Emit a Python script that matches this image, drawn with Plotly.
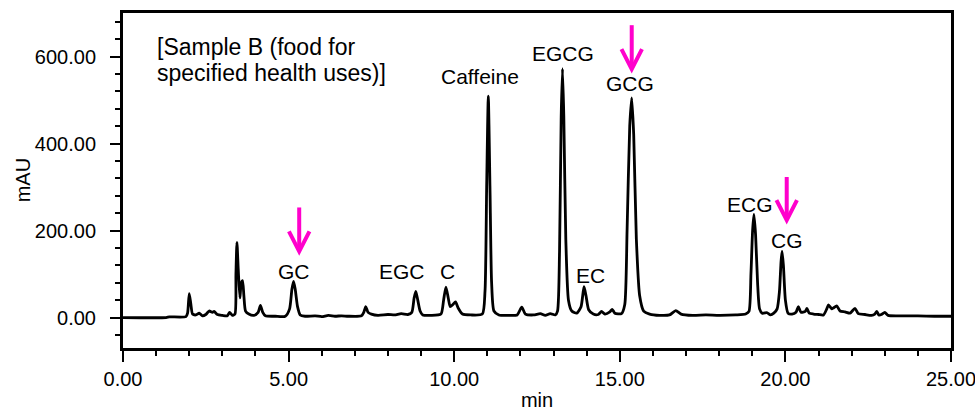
import plotly.graph_objects as go

# Chromatogram trace: retention time (min) and absorbance (mAU)
time_min = [
    0.0, 1.3, 1.4, 1.9, 1.95, 2.0, 2.05, 2.1, 2.2, 2.3, 2.4, 2.5, 2.6, 2.7, 2.75, 2.85,
    3.0, 3.15, 3.22, 3.3, 3.38, 3.41, 3.44, 3.48, 3.53, 3.57, 3.61, 3.65, 3.7, 3.8, 3.95,
    4.08, 4.15, 4.22, 4.3, 4.6, 4.9, 5.03, 5.1, 5.15, 5.2, 5.27, 5.35, 5.5, 5.8, 6.0, 6.2,
    6.4, 6.6, 6.8, 7.2, 7.27, 7.33, 7.4, 7.5, 7.7, 8.0, 8.2, 8.4, 8.6, 8.72, 8.79, 8.84,
    8.9, 8.97, 9.05, 9.3, 9.6, 9.68, 9.75, 9.82, 9.88, 9.96, 10.04, 10.12, 10.25, 10.5,
    10.85, 10.93, 10.98, 11.03, 11.08, 11.13, 11.2, 11.35, 11.6, 11.9, 12.04, 12.15, 12.4,
    12.6, 12.75, 12.9, 13.05, 13.12, 13.18, 13.23, 13.27, 13.31, 13.37, 13.45, 13.55, 13.7,
    13.83, 13.92, 13.98, 14.06, 14.2, 14.35, 14.45, 14.55, 14.7, 14.77, 14.85, 15.05, 15.15,
    15.22, 15.3, 15.36, 15.42, 15.5, 15.6, 15.72, 15.9, 16.2, 16.5, 16.69, 16.85, 17.2, 17.6,
    18.0, 18.5, 18.8, 18.9, 18.96, 19.01, 19.05, 19.1, 19.16, 19.22, 19.3, 19.45, 19.55,
    19.65, 19.75, 19.82, 19.87, 19.9, 19.94, 20.0, 20.08, 20.2, 20.32, 20.39, 20.47, 20.6,
    20.65, 20.72, 20.85, 21.0, 21.15, 21.25, 21.3, 21.4, 21.45, 21.55, 21.65, 21.8, 21.95,
    22.1, 22.2, 22.4, 22.6, 22.7, 22.76, 22.82, 22.9, 23.0, 23.1, 23.5, 24.0, 24.5, 25.0,
]
mau = [
    0, 0, 1.5, 2, 10, 55, 30, 8, 6, 10, 4, 7, 15, 12, 14, 7,
    5, 4, 12, 5, 8, 100, 173, 110, 45, 80, 85, 50, 15, 8, 5,
    12, 28, 12, 4, 3, 3, 20, 65, 83, 65, 25, 6, 3, 4, 2, 5,
    3, 4, 3, 4, 12, 25, 12, 8, 5, 7, 6, 9, 7, 12, 45, 60,
    40, 15, 6, 5, 8, 40, 70, 45, 25, 30, 36, 22, 8, 6,
    8, 60, 300, 509, 300, 80, 15, 6, 5, 6, 24, 8, 6,
    9, 5, 9, 6, 15, 150, 460, 572, 460, 180, 40, 15, 10,
    25, 71, 50, 18, 8, 7, 14, 8, 13, 19, 10, 9, 30,
    200, 440, 505, 420, 180, 50, 15, 8, 5, 6, 16, 8, 5, 6,
    5, 6, 8, 14, 100, 200, 237, 190, 80, 20, 10, 11, 6,
    10, 20, 60, 130, 152, 120, 40, 10, 8, 12, 25, 12, 14,
    21, 10, 8, 7, 6, 20, 29, 20, 22, 27, 15, 13, 10,
    21, 9, 7, 5, 8, 14, 6, 7, 12, 5, 4, 4, 3, 3,
]

# Peak labels
peak_names = ["GC", "EGC", "C", "Caffeine", "EGCG", "EC", "GCG", "ECG", "CG"]
label_x = [5.16, 8.43, 9.81, 10.79, 13.27, 14.12, 15.32, 18.92, 20.06]
label_y = [106, 106, 106, 553, 608, 97, 538, 259, 176]

# Magenta arrows (x position, top, tip) in data units
arrow_x = [5.32, 15.36, 20.04]
arrow_top = [253, 672, 323]
arrow_tip = [152, 571, 224]

sample_lines = ["[Sample B (food for", "specified health uses)]"]

FONT = "Liberation Sans, Arial, sans-serif"
MAGENTA = "#ff00cc"

fig = go.Figure()
fig.add_trace(go.Scatter(
    x=time_min, y=mau, mode="lines",
    line=dict(color="black", width=2.8, shape="spline", smoothing=0.6),
    showlegend=False, hoverinfo="skip",
))

for name, lx, ly in zip(peak_names, label_x, label_y):
    fig.add_annotation(x=lx, y=ly, text=name, showarrow=False,
                       xanchor="center", yanchor="middle",
                       font=dict(family=FONT, size=21, color="black"))

for txt, ly in zip(sample_lines, [621, 561]):
    fig.add_annotation(x=0.96, y=ly, text=txt, showarrow=False,
                       xanchor="left", yanchor="middle",
                       font=dict(family=FONT, size=23, color="black"))

# y-axis title as rotated text
fig.add_annotation(xref="paper", yref="paper", x=-0.121, y=0.5, text="mAU",
                   textangle=-90, showarrow=False, xanchor="center", yanchor="middle",
                   font=dict(family=FONT, size=20, color="black"))

head_dx = 0.31  # min
head_dy = 46    # mAU
for ax, at, tip in zip(arrow_x, arrow_top, arrow_tip):
    fig.add_shape(type="line", x0=ax, x1=ax, y0=at, y1=tip + 4,
                  line=dict(color=MAGENTA, width=4))
    fig.add_shape(type="path",
                  path=f"M {ax - head_dx},{tip + head_dy} L {ax},{tip} L {ax + head_dx},{tip + head_dy}",
                  line=dict(color=MAGENTA, width=4))

fig.update_layout(
    width=975, height=411,
    margin=dict(l=123, r=24, t=13, b=63),
    paper_bgcolor="white", plot_bgcolor="white",
    font=dict(family=FONT, size=20, color="black"),
)
fig.update_xaxes(
    range=[0, 25.0001], tick0=0, dtick=5, tickformat=".2f",
    ticks="outside", ticklen=11, tickwidth=1.5, tickcolor="black",
    minor=dict(dtick=1, ticks="outside", ticklen=5, tickwidth=1.5, tickcolor="black"),
    showline=True, linecolor="black", linewidth=3, mirror=True,
    showgrid=False, zeroline=False, automargin=False,
    ticklabeloverflow="allow",
    tickfont=dict(family=FONT, size=20),
    title=dict(text="min", font=dict(family=FONT, size=20), standoff=12),
)
fig.update_yaxes(
    range=[-70, 700], tick0=0, dtick=200, tickformat=".2f",
    ticks="outside", ticklen=10, tickwidth=1.5, tickcolor="black",
    minor=dict(dtick=40, ticks="outside", ticklen=5, tickwidth=1.5, tickcolor="black"),
    showline=True, linecolor="black", linewidth=3, mirror=True,
    showgrid=False, zeroline=False, automargin=False,
    tickfont=dict(family=FONT, size=20),
    ticklabelstandoff=10,
)

fig.write_html("out.html")
